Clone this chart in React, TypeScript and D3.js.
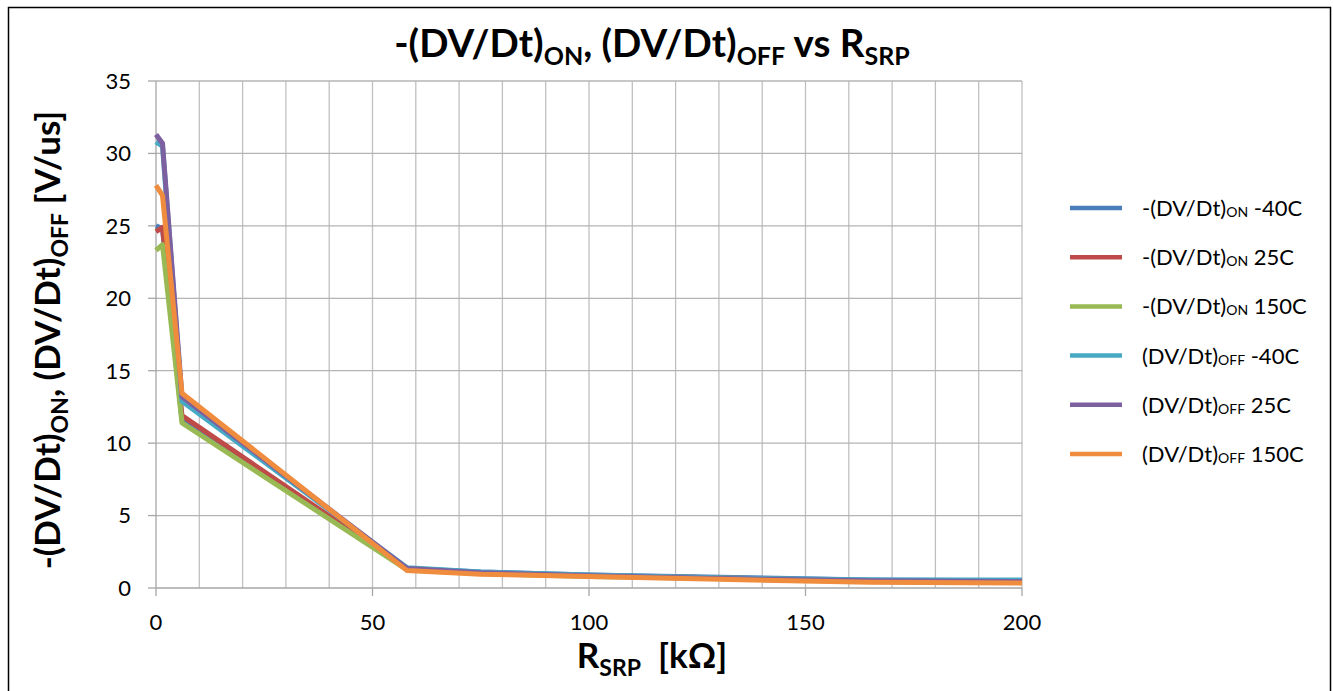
import React from "react";
import * as d3 from "d3";

const xValues = [0, 1.5, 6, 58, 75, 100, 130, 165, 200];
const onM40 = [25.0, 24.8, 11.6, 1.35, 1.1, 0.9, 0.75, 0.55, 0.5];
const on25 = [24.6, 24.9, 11.9, 1.3, 1.05, 0.85, 0.7, 0.5, 0.45];
const on150 = [23.3, 23.7, 11.4, 1.25, 1.0, 0.8, 0.65, 0.45, 0.4];
const offM40 = [30.8, 30.5, 12.9, 1.4, 1.1, 0.9, 0.7, 0.55, 0.55];
const off25 = [31.3, 30.7, 13.2, 1.35, 1.05, 0.85, 0.65, 0.5, 0.45];
const off150 = [27.8, 27.1, 13.45, 1.2, 0.95, 0.8, 0.6, 0.4, 0.35];

const seriesNames = [
  ["-(DV/Dt)", "ON", " -40C"],
  ["-(DV/Dt)", "ON", " 25C"],
  ["-(DV/Dt)", "ON", " 150C"],
  ["(DV/Dt)", "OFF", " -40C"],
  ["(DV/Dt)", "OFF", " 25C"],
  ["(DV/Dt)", "OFF", " 150C"],
];
const seriesColors = ["#4a7ebb", "#be4b48", "#98b954", "#46aac5", "#7d60a0", "#f08c3e"];
const seriesData = [onM40, on25, on150, offM40, off25, off150];

const xTicks = [0, 50, 100, 150, 200];
const yTicks = [0, 5, 10, 15, 20, 25, 30, 35];

const FONT = "Lato, 'Open Sans', sans-serif";

export default function App() {
  const left = 156, right = 1022, top = 81, bottom = 588;
  const x = d3.scaleLinear().domain([0, 200]).range([left, right]);
  const y = d3.scaleLinear().domain([0, 35]).range([bottom, top]);
  const line = d3.line<number>().x((_, i) => x(xValues[i])).y((v) => y(v));
  const xGrid = d3.range(10, 201, 10);
  const legendY0 = 208, legendStep = 49.2;

  return (
    <svg width={1334} height={691} style={{ position: "absolute", left: 0, top: 0, display: "block" }}>
      <rect x={0} y={0} width={1334} height={691} fill="#fff" />
      <rect x={8.5} y={7.5} width={1322} height={700} fill="none" stroke="#000" strokeWidth={1.5} />
      {/* grid */}
      {xGrid.map((v) => (
        <line key={"gx" + v} x1={x(v)} x2={x(v)} y1={top} y2={bottom} stroke="#c0c0c0" strokeWidth={1.3} />
      ))}
      {yTicks.filter((v) => v > 0).map((v) => (
        <line key={"gy" + v} x1={left} x2={right} y1={y(v)} y2={y(v)} stroke="#b4b4b4" strokeWidth={1.3} />
      ))}
      {/* axes */}
      <line x1={left} x2={left} y1={top} y2={bottom} stroke="#a6a6a6" strokeWidth={1.3} />
      <line x1={left} x2={right} y1={bottom} y2={bottom} stroke="#a6a6a6" strokeWidth={1.3} />
      {yTicks.map((v) => (
        <line key={"ty" + v} x1={left - 8} x2={left} y1={y(v)} y2={y(v)} stroke="#a6a6a6" strokeWidth={1.3} />
      ))}
      {xTicks.map((v) => (
        <line key={"tx" + v} x1={x(v)} x2={x(v)} y1={bottom} y2={bottom + 8} stroke="#a6a6a6" strokeWidth={1.3} />
      ))}
      {yTicks.map((v) => (
        <text key={"ly" + v} x={131} y={y(v)} dy="0.36em" textAnchor="end" fontFamily={FONT} fontSize={22} fill="#000">
          {v}
        </text>
      ))}
      {xTicks.map((v) => (
        <text key={"lx" + v} x={x(v)} y={630} textAnchor="middle" fontFamily={FONT} fontSize={22} fill="#000">
          {v}
        </text>
      ))}
      {/* series */}
      {seriesData.map((d, i) => (
        <path key={"s" + i} d={line(d) || ""} fill="none" stroke={seriesColors[i]} strokeWidth={5} strokeLinejoin="round" />
      ))}
      {/* title */}
      <text x={652} y={57} textAnchor="middle" fontFamily={FONT} fontWeight="bold" fontSize={38.5} fill="#000">
        -(DV/Dt)
        <tspan fontSize={25} dy={8}>ON</tspan>
        <tspan dy={-8}>, (DV/Dt)</tspan>
        <tspan fontSize={25} dy={8}>OFF</tspan>
        <tspan dy={-8}> vs R</tspan>
        <tspan fontSize={25} dy={8}>SRP</tspan>
      </text>
      {/* x label */}
      <text x={652} y={668} textAnchor="middle" fontFamily={FONT} fontWeight="bold" fontSize={35} fill="#000">
        R
        <tspan fontSize={23} dy={8}>SRP</tspan>
        <tspan dy={-8}>{"\u00a0 [kΩ]"}</tspan>
      </text>
      {/* y label */}
      <text transform="translate(60,340) rotate(-90)" textAnchor="middle" fontFamily={FONT} fontWeight="bold" fontSize={35} fill="#000">
        -(DV/Dt)
        <tspan fontSize={23} dy={8}>ON</tspan>
        <tspan dy={-8}>, (DV/Dt)</tspan>
        <tspan fontSize={23} dy={8}>OFF</tspan>
        <tspan dy={-8}> [V/us]</tspan>
      </text>
      {/* legend */}
      {seriesNames.map((n, i) => {
        const ly = legendY0 + i * legendStep;
        return (
          <g key={"lg" + i}>
            <line x1={1070} x2={1122} y1={ly} y2={ly} stroke={seriesColors[i]} strokeWidth={4.5} />
            <text x={1142} y={ly} dy="0.36em" fontFamily={FONT} fontSize={22} fill="#000">
              {n[0]}
              <tspan fontSize={14} dy={1}>{n[1]}</tspan>
              <tspan dy={-1}>{n[2]}</tspan>
            </text>
          </g>
        );
      })}
    </svg>
  );
}
